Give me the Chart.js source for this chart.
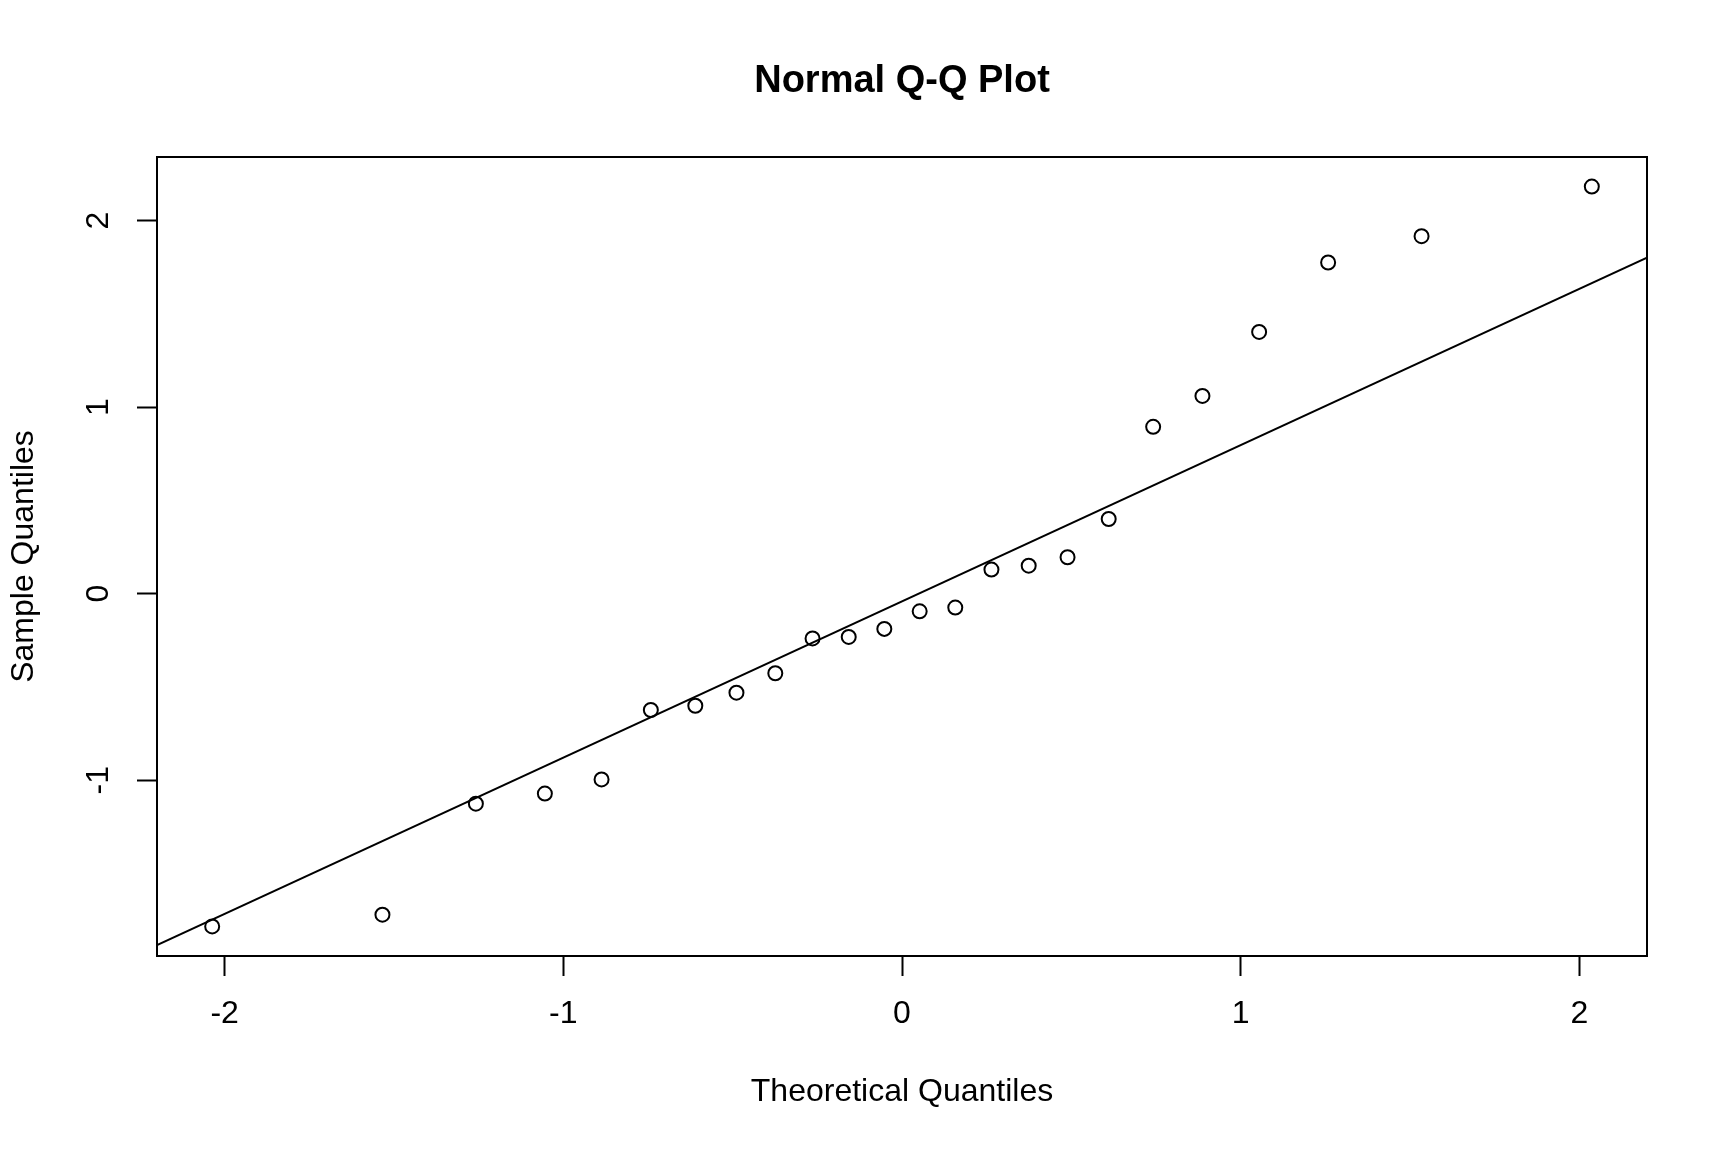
<!DOCTYPE html>
<html>
<head>
<meta charset="utf-8">
<title>Normal Q-Q Plot</title>
<script src="https://cdn.jsdelivr.net/npm/chart.js@4.4.1/dist/chart.umd.min.js"></script>
<style>
  html, body { margin: 0; padding: 0; background: #fff; }
  #wrap { width: 1728px; height: 1152px; }
</style>
</head>
<body>
<div id="wrap"><canvas id="qq"></canvas></div>
<script>
// theoretical normal quantiles for n = 24 and the sorted sample
const theoretical = [
  -2.0368, -1.5341, -1.2582, -1.0545, -0.8871, -0.7416, -0.6103, -0.4888,
  -0.3741, -0.2641, -0.1573, -0.0522, 0.0522, 0.1573, 0.2641, 0.3741,
  0.4888, 0.6103, 0.7416, 0.8871, 1.0545, 1.2582, 1.5341, 2.0368
];
const sample = [
  -1.784, -1.721, -1.126, -1.072, -0.996, -0.624, -0.601, -0.531,
  -0.427, -0.240, -0.232, -0.189, -0.095, -0.075, 0.129, 0.150,
  0.195, 0.400, 0.894, 1.060, 1.403, 1.775, 1.916, 2.182
];
const xTicks = [-2, -1, 0, 1, 2];
const yTicks = [-1, 0, 1, 2];

const FONT = '"Liberation Sans", Arial, Helvetica, sans-serif';

// R-style quantile (type 7)
function quantile(sorted, p) {
  const h = (sorted.length - 1) * p;
  const lo = Math.floor(h);
  return sorted[lo] + (h - lo) * (sorted[lo + 1] - sorted[lo]);
}

// qqline through the first and third quartiles
const q1 = quantile(sample, 0.25);
const q3 = quantile(sample, 0.75);
const z = 0.6744898;
const slope = (q3 - q1) / (2 * z);
const intercept = q1 + slope * z;

// axis limits like R (data range plus 4% each side)
function extend(arr) {
  const lo = Math.min(...arr), hi = Math.max(...arr);
  const pad = (hi - lo) * 0.04;
  return [lo - pad, hi + pad];
}
const [xMin, xMax] = extend(theoretical);
const [yMin, yMax] = extend(sample);

const points = theoretical.map((x, i) => ({ x: x, y: sample[i] }));
const qqline = [xMin, xMax].map(x => ({ x: x, y: intercept + slope * x }));

const boxPlugin = {
  id: 'rbox',
  afterDraw(chart) {
    const { ctx, chartArea: a } = chart;
    ctx.save();
    ctx.strokeStyle = '#000';
    ctx.lineWidth = 2;
    ctx.strokeRect(a.left, a.top, a.right - a.left, a.bottom - a.top);
    ctx.fillStyle = '#000';
    ctx.font = 'bold 38px ' + FONT;
    ctx.textAlign = 'center';
    ctx.textBaseline = 'middle';
    ctx.fillText('Normal Q-Q Plot', (a.left + a.right) / 2, 82);
    ctx.restore();
  }
};

const tickFont = { family: FONT, size: 32 };
const grid = {
  drawOnChartArea: false,
  drawTicks: true,
  tickLength: 20,
  tickWidth: 2,
  tickColor: '#000'
};

new Chart(document.getElementById('qq'), {
  type: 'scatter',
  data: {
    datasets: [
      {
        label: 'sample',
        data: points,
        pointStyle: 'circle',
        pointRadius: 7,
        pointBorderWidth: 2,
        borderColor: '#000',
        backgroundColor: 'rgba(0,0,0,0)',
        showLine: false
      },
      {
        label: 'qqline',
        type: 'line',
        data: qqline,
        borderColor: '#000',
        borderWidth: 2,
        pointRadius: 0,
        fill: false
      }
    ]
  },
  options: {
    responsive: true,
    maintainAspectRatio: false,
    animation: false,
    layout: { padding: { top: 157, right: 81, bottom: 0, left: 0 } },
    plugins: {
      legend: { display: false },
      tooltip: { enabled: false },
      title: { display: false }
    },
    scales: {
      x: {
        type: 'linear',
        position: 'bottom',
        min: xMin,
        max: xMax,
        afterBuildTicks: s => { s.ticks = xTicks.map(v => ({ value: v })); },
        afterFit: s => { s.height = 196; },
        ticks: { font: tickFont, color: '#000', padding: 19, maxRotation: 0, autoSkip: false },
        grid: grid,
        border: { display: false },
        title: {
          display: true,
          text: 'Theoretical Quantiles',
          color: '#000',
          font: { family: FONT, size: 32 },
          padding: { top: 0, bottom: 41 }
        }
      },
      y: {
        type: 'linear',
        position: 'left',
        min: yMin,
        max: yMax,
        afterBuildTicks: s => { s.ticks = yTicks.map(v => ({ value: v })); },
        afterFit: s => { s.width = 157; },
        ticks: {
          font: tickFont, color: '#000', padding: 24,
          minRotation: 90, maxRotation: 90, crossAlign: 'center', autoSkip: false
        },
        grid: grid,
        border: { display: false },
        title: {
          display: true,
          text: 'Sample Quantiles',
          color: '#000',
          font: { family: FONT, size: 32 },
          padding: { top: 5, bottom: 0 }
        }
      }
    }
  },
  plugins: [boxPlugin]
});
</script>
</body>
</html>
